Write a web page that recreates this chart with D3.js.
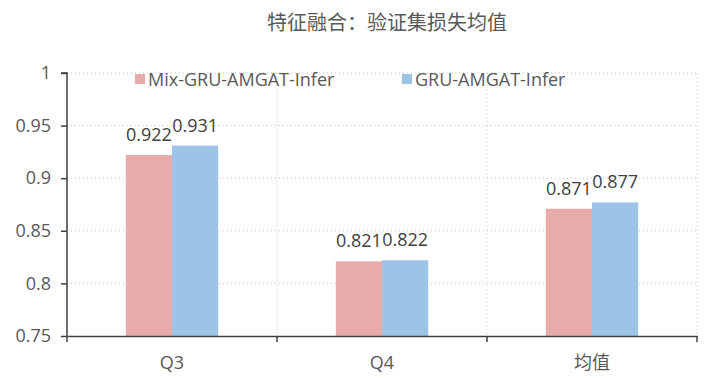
<!DOCTYPE html>
<html>
<head>
<meta charset="utf-8">
<script src="https://cdn.jsdelivr.net/npm/d3@7"></script>
<style>
  body { margin: 0; background: #fff; }
  text { font-family: "Open Sans", "Noto Sans CJK SC", sans-serif; fill: #595959; }
</style>
</head>
<body>
<div id="chart"></div>
<script>
// data
var categories = ["Q3", "Q4", "均值"];
var seriesNames = ["Mix-GRU-AMGAT-Infer", "GRU-AMGAT-Infer"];
var mixValues = [0.922, 0.821, 0.871];
var gruValues = [0.931, 0.822, 0.877];
var yTicks = [0.75, 0.8, 0.85, 0.9, 0.95, 1];
var colors = ["#e8abaa", "#9dc3e6"];

var w = 705, h = 378;
var plotLeft = 67, plotRight = 697, plotTop = 73, plotBottom = 336;

var svg = d3.select("#chart").append("svg")
    .attr("width", w)
    .attr("height", h);

svg.append("text")
    .attr("x", 387)
    .attr("y", 30)
    .attr("text-anchor", "middle")
    .style("font-size", "20px")
    .style("font-family", "Noto Sans CJK SC")
    .text("特征融合：验证集损失均值");

var xScale = d3.scaleBand().domain(categories).range([plotLeft, plotRight]);
var yScale = d3.scaleLinear().domain([0.75, 1]).range([plotBottom, plotTop]);
var sub = d3.scaleBand().domain([0, 1]).range([0, xScale.bandwidth() * 0.44]);

// horizontal dotted grid
svg.append("g")
    .selectAll("line.hgrid")
    .data(yTicks.slice(1))
    .enter().append("line")
    .attr("class", "hgrid")
    .attr("x1", plotLeft)
    .attr("x2", plotRight)
    .attr("y1", d => yScale(d))
    .attr("y2", d => yScale(d))
    .attr("stroke", "#c8c8c8")
    .attr("stroke-dasharray", "1,3");

// vertical dotted grid at category edges
svg.append("g")
    .selectAll("line.vgrid")
    .data(categories)
    .enter().append("line")
    .attr("class", "vgrid")
    .attr("x1", d => xScale(d) + xScale.bandwidth())
    .attr("x2", d => xScale(d) + xScale.bandwidth())
    .attr("y1", plotTop)
    .attr("y2", plotBottom)
    .attr("stroke", "#c8c8c8")
    .attr("stroke-dasharray", "1,3");

var series = [mixValues, gruValues];

series.forEach(function(values, s) {
    var g = svg.append("g");
    g.selectAll("rect")
        .data(values)
        .enter().append("rect")
        .attr("x", (d, i) => xScale(categories[i]) + xScale.bandwidth() * 0.28 + sub(s))
        .attr("y", d => yScale(d))
        .attr("width", sub.bandwidth())
        .attr("height", d => plotBottom - yScale(d))
        .attr("fill", colors[s]);

    g.selectAll("text")
        .data(values)
        .enter().append("text")
        .attr("x", (d, i) => xScale(categories[i]) + xScale.bandwidth() * 0.28 + sub(s) + sub.bandwidth() / 2)
        .attr("y", d => yScale(d) - 14)
        .attr("text-anchor", "middle")
        .style("font-size", "18px")
        .style("fill", "#404040")
        .text(d => d3.format(".3f")(d));
});

// y axis
var yAxis = d3.axisLeft(yScale)
    .tickValues(yTicks)
    .tickSize(6)
    .tickFormat(d => d === 1 ? "1" : d3.format("")(d));

var yg = svg.append("g")
    .attr("transform", "translate(" + plotLeft + ",0)")
    .call(yAxis);
yg.select(".domain").attr("stroke", "#404040").attr("stroke-width", 1.5)
    .attr("d", "M-6," + plotTop + "H0V" + plotBottom);
yg.selectAll(".tick line").attr("stroke", "#404040").attr("stroke-width", 1.5);
yg.selectAll(".tick text")
    .attr("x", -16)
    .style("font-size", "18px")
    .style("font-family", "Open Sans")
    .style("fill", "#595959");

// x axis
var xAxis = d3.axisBottom(xScale).tickSize(0).tickPadding(16);
var xg = svg.append("g")
    .attr("transform", "translate(0," + plotBottom + ")")
    .call(xAxis);
xg.select(".domain").attr("stroke", "#404040").attr("stroke-width", 1.5);
xg.selectAll(".tick text")
    .attr("y", 20)
    .style("font-size", "18px")
    .style("font-family", "Open Sans, Noto Sans CJK SC")
    .style("fill", "#595959");

// x ticks at band edges
svg.append("g")
    .selectAll("line.xtick")
    .data([plotLeft].concat(categories.map(d => xScale(d) + xScale.bandwidth())))
    .enter().append("line")
    .attr("class", "xtick")
    .attr("x1", d => d)
    .attr("x2", d => d)
    .attr("y1", plotBottom)
    .attr("y2", plotBottom + 6)
    .attr("stroke", "#404040")
    .attr("stroke-width", 1.5);

// legend
var legendX = [135, 402];
var legend = svg.append("g");
seriesNames.forEach(function(name, s) {
    legend.append("rect")
        .attr("x", legendX[s])
        .attr("y", 74)
        .attr("width", 10)
        .attr("height", 10)
        .attr("fill", colors[s]);
    legend.append("text")
        .attr("x", legendX[s] + 13)
        .attr("y", 86)
        .style("font-size", "18px")
        .text(name);
});
</script>
</body>
</html>
